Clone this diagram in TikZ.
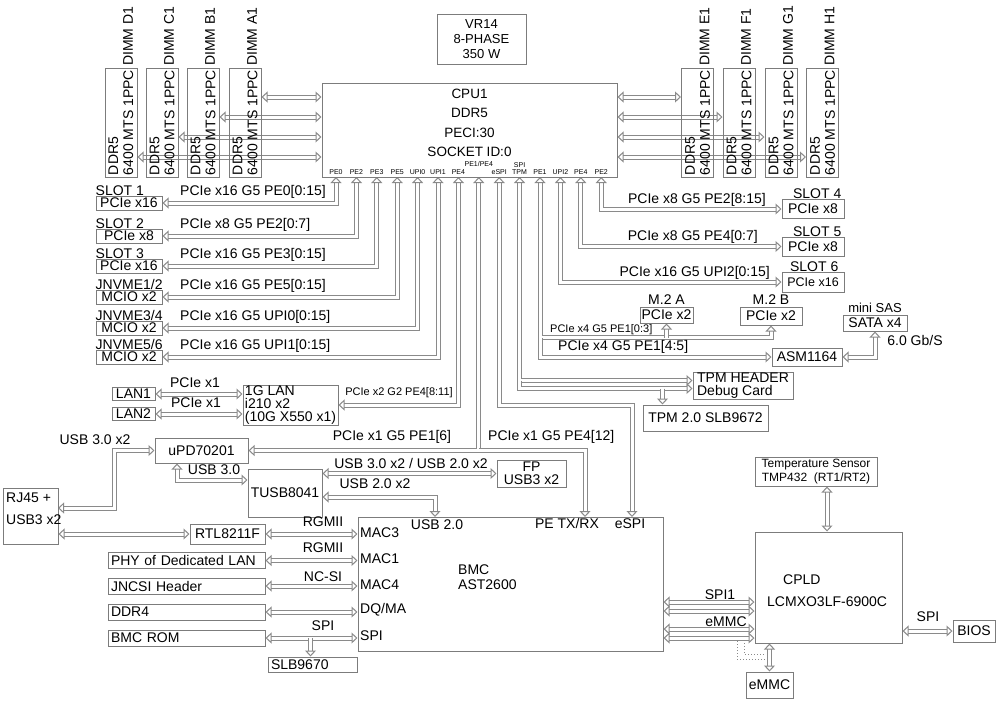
\documentclass[tikz,border=0pt]{standalone}
\usepackage{fontspec}
\setmainfont{Liberation Sans}
\usetikzlibrary{arrows.meta,positioning,backgrounds}
\definecolor{boxgray}{HTML}{7c7c7c}
\definecolor{busgray}{HTML}{8a8a8a}
\newcommand\pxs[2]{\fontsize{#1}{#2}\selectfont}
\tikzset{
  blk/.style={draw=boxgray, line width=1pt, inner sep=0pt, align=center, font=\pxs{14}{15}},
  blk_left/.style={blk, align=left, text width=#1, inner xsep=3pt},
  dimmbox/.style={blk, rotate=90, align=left, minimum width=109pt, minimum height=32pt, inner xsep=1pt},
  dimmlbl/.style={rotate=90, anchor=west, inner sep=0pt, font=\pxs{14}{15}},
  lbl/.style={inner sep=0pt, font=\pxs{14}{15}},
  lbl_small/.style={inner sep=0pt, font=\pxs{11}{12}},
  portlbl/.style={inner sep=0pt, align=center, font=\pxs{7}{7.5}},
  bus/.style={draw=busgray, line width=1pt, double=white, double distance=3pt},
  busboth/.style={bus, {Triangle[open, width=11pt, length=6pt, line width=1pt]}-{Triangle[open, width=11pt, length=6pt, line width=1pt]}},
  busend/.style={bus, -{Triangle[open, width=11pt, length=6pt, line width=1pt]}},
  dotline/.style={draw=busgray, line width=1pt, dotted},
}

\begin{document}
\begin{tikzpicture}[x=1pt, y=-1pt]
  \useasboundingbox (0,0) rectangle (1000,702);

  % CPU, VR and memory
  \node[blk, minimum width=89pt, minimum height=50pt, font=\pxs{13}{15}] (vr) at (481.5,39) {VR14\\8-PHASE\\350 W};
  \node[blk, minimum width=295pt, minimum height=94pt] (cpu) at (469.5,130) {};
  \node[lbl, align=center, font=\pxs{13.5}{19.5}, below=6pt of cpu.north] (cputxt) {CPU1\\DDR5\\PECI:30\\SOCKET ID:0};
  \foreach \nm/\xx in {D/121, C/162, B/203, A/245, E/697.5, F/739, G/781, H/822.5} {
    \node[dimmbox] (dimm\nm) at (\xx,122.5) {DDR5\\6400 MTS 1PPC};
    \node[dimmlbl] (lbl\nm) at (\xx+7,66) {DIMM \nm1};
  }
  \foreach \nm/\txt/\dy [count=\i from 0] in {pe0/PE0/0, pe2/PE2/0, pe3/PE3/0, pe5/PE5/0, upi0/UPI0/0, upi1/UPI1/0, pe4a/PE4/0, pe14/{PE1/PE4}/8, espi/eSPI/0, spitpm/{SPI\\TPM}/0, pe1/PE1/0, upi2/UPI2/0, pe4b/PE4/0, pe2b/PE2/0} {
    \coordinate (\nm) at (336+20.4*\i,177);
    \node[portlbl, anchor=south] (l\nm) at (336+20.4*\i,175-\dy) {\txt};
  }

  % left slots
  \node[blk, minimum width=66pt, minimum height=14pt] (slot1) at (129,203) {PCIe x16};
  \node[blk, minimum width=66pt, minimum height=14pt] (slot2) at (129,236) {PCIe x8};
  \node[blk, minimum width=66pt, minimum height=14pt] (slot3) at (129,266) {PCIe x16};
  \node[blk, minimum width=66pt, minimum height=14pt] (nvme12) at (129,297) {MCIO x2};
  \node[blk, minimum width=66pt, minimum height=14pt] (nvme34) at (129,328) {MCIO x2};
  \node[blk, minimum width=66pt, minimum height=14pt] (nvme56) at (129,357) {MCIO x2};
  \node[lbl, above=0pt of slot1.north west, anchor=south west] (slot1t) {SLOT 1};
  \node[lbl, above=0pt of slot2.north west, anchor=south west] (slot2t) {SLOT 2};
  \node[lbl, above=0pt of slot3.north west, anchor=south west] (slot3t) {SLOT 3};
  \node[lbl, above=0pt of nvme12.north west, anchor=south west] (nvme12t) {JNVME1/2};
  \node[lbl, above=0pt of nvme34.north west, anchor=south west] (nvme34t) {JNVME3/4};
  \node[lbl, above=0pt of nvme56.north west, anchor=south west] (nvme56t) {JNVME5/6};
  \node[lbl, anchor=south west] (bl1) at (180,199) {PCIe x16 G5 PE0[0:15]};
  \node[lbl, anchor=south west] (bl2) at (180,232) {PCIe x8 G5 PE2[0:7]};
  \node[lbl, anchor=south west] (bl3) at (180,262) {PCIe x16 G5 PE3[0:15]};
  \node[lbl, anchor=south west] (bl4) at (180,293) {PCIe x16 G5 PE5[0:15]};
  \node[lbl, anchor=south west] (bl5) at (180,324) {PCIe x16 G5 UPI0[0:15]};
  \node[lbl, anchor=south west] (bl6) at (180,353) {PCIe x16 G5 UPI1[0:15]};

  % right slots and storage
  \node[blk, minimum width=62pt, minimum height=19pt] (slot4) at (813,209) {PCIe x8};
  \node[blk, minimum width=62pt, minimum height=19pt] (slot5) at (813,246.5) {PCIe x8};
  \node[blk, minimum width=62pt, minimum height=20pt, font=\pxs{12.5}{14}] (slot6) at (813,282) {PCIe x16};
  \node[lbl, above=0pt of slot4.north east, anchor=south east, xshift=-3pt] (slot4t) {SLOT 4};
  \node[lbl, above=0pt of slot5.north east, anchor=south east, xshift=-3pt] (slot5t) {SLOT 5};
  \node[lbl, above=0pt of slot6.north east, anchor=south east, xshift=-6pt] (slot6t) {SLOT 6};
  \node[lbl, anchor=south east] (br1) at (766,206.5) {PCIe x8 G5 PE2[8:15]};
  \node[lbl, anchor=south east] (br2) at (758,244) {PCIe x8 G5 PE4[0:7]};
  \node[lbl, anchor=south east] (br3) at (770,279.5) {PCIe x16 G5 UPI2[0:15]};
  \node[blk, minimum width=53pt, minimum height=16pt] (m2a) at (666.5,315) {PCIe x2};
  \node[blk, minimum width=62pt, minimum height=18pt] (m2b) at (771,316) {PCIe x2};
  \node[lbl, above=2pt of m2a] (m2at) {M.2 A};
  \node[lbl, above=2pt of m2b] (m2bt) {M.2 B};
  \node[lbl_small, anchor=south west] (br4) at (550,334.5) {PCIe x4 G5 PE1[0:3]};
  \node[lbl, anchor=west] (br5) at (558,346.5) {PCIe x4 G5 PE1[4:5]};
  \node[blk, minimum width=70pt, minimum height=18pt] (asm) at (807,357) {ASM1164};
  \node[blk, minimum width=64pt, minimum height=16pt] (sata) at (875,323) {SATA x4};
  \node[lbl, font=\pxs{13}{14}, above=1.5pt of sata] (satat) {mini SAS};
  \node[lbl] (satarate) at (915,340) {6.0 Gb/S};
  \node[blk, align=left, minimum width=100pt, minimum height=27pt, font=\pxs{14}{13}] (tpmh) at (743,385.5) {TPM HEADER\\Debug Card};
  \node[blk, minimum width=125pt, minimum height=26pt] (tpm2) at (705.5,418) {TPM 2.0 SLB9672};

  % LAN
  \node[blk, minimum width=43pt, minimum height=13pt] (lan1) at (133.5,394) {LAN1};
  \node[blk, minimum width=43pt, minimum height=13pt] (lan2) at (133.5,414) {LAN2};
  \node[blk, align=left, minimum width=95pt, minimum height=40pt, font=\pxs{14}{13.3}] (glan) at (290.5,405) {1G LAN\\i210 x2\\(10G X550 x1)};
  \node[lbl] (lanl1) at (195,383) {PCIe x1};
  \node[lbl] (lanl2) at (196,403) {PCIe x1};
  \node[lbl_small] (lanl3) at (399,393) {PCIe x2 G2 PE4[8:11]};

  % USB
  \node[blk, minimum width=93pt, minimum height=25pt] (upd) at (201.5,450.5) {uPD70201};
  \node[blk, minimum width=74pt, minimum height=48pt] (tusb) at (285,493) {TUSB8041};
  \node[blk, minimum width=69pt, minimum height=27pt, font=\pxs{14}{13}] (fp) at (531.5,473.5) {FP\\USB3 x2};
  \node[blk, minimum width=55pt, minimum height=56pt] (rj45) at (30.5,516) {};
  \node[lbl, align=left, anchor=north west, font=\pxs{14}{22}] (rj45t) at (6,493) {RJ45 +\\USB3 x2};
  \node[lbl] (usbl1) at (95,440) {USB 3.0 x2};
  \node[lbl] (usbl2) at (214,470) {USB 3.0};
  \node[lbl] (usbl3) at (411,463) {USB 3.0 x2 / USB 2.0 x2};
  \node[lbl] (usbl4) at (375,484) {USB 2.0 x2};
  \node[lbl] (pcil1) at (392,437) {PCIe x1 G5 PE1[6]};
  \node[lbl, anchor=west] (pcil2) at (488,437) {PCIe x1 G5 PE4[12]};

  % BMC
  \node[blk, minimum width=305pt, minimum height=134pt] (bmc) at (510.5,584) {};
  \node[blk, minimum width=75pt, minimum height=20pt] (rtl) at (227.5,534) {RTL8211F};
  \node[blk_left=151pt, minimum height=16pt] (phy) at (186.5,560.5) {PHY of Dedicated LAN};
  \node[blk_left=151pt, minimum height=16pt] (jncsi) at (186.5,586) {JNCSI Header};
  \node[blk_left=151pt, minimum height=16pt] (ddr4) at (186.5,612) {DDR4};
  \node[blk_left=151pt, minimum height=16pt] (bmcrom) at (186.5,638) {BMC ROM};
  \node[blk_left=83pt, minimum height=15pt] (slb) at (312.5,664.5) {SLB9670};
  \node[lbl, anchor=west] (mac3) at (360,533) {MAC3};
  \node[lbl, anchor=west] (mac1) at (360,559) {MAC1};
  \node[lbl, anchor=west] (mac4) at (360,585) {MAC4};
  \node[lbl, anchor=west] (dqma) at (360,610) {DQ/MA};
  \node[lbl, anchor=west] (bmcspi) at (360,636) {SPI};
  \node[lbl] (bmcusb) at (437,525) {USB 2.0};
  \node[lbl] (bmcpe) at (567,523) {PE TX/RX};
  \node[lbl] (bmcespi) at (630,524) {eSPI};
  \node[lbl, align=left, anchor=north west] (bmcname) at (458,565) {BMC\\AST2600};
  \node[lbl] (rgl1) at (323,522) {RGMII};
  \node[lbl] (rgl2) at (323,548) {RGMII};
  \node[lbl] (ncsil) at (323,577) {NC-SI};
  \node[lbl] (spil) at (323,626) {SPI};

  % CPLD
  \node[blk, minimum width=147pt, minimum height=111pt] (cpld) at (828.5,587.5) {};
  \node[lbl, anchor=west] (cpldt1) at (783,580) {CPLD};
  \node[lbl, anchor=west] (cpldt2) at (767,602) {LCMXO3LF-6900C};
  \node[blk, minimum width=122pt, minimum height=29pt, font=\pxs{12}{14}] (temp) at (816,471.5) {Temperature Sensor\\TMP432~~(RT1/RT2)};
  \node[blk, minimum width=47pt, minimum height=26pt] (emmc) at (769.5,685) {eMMC};
  \node[blk, minimum width=42pt, minimum height=22pt] (bios) at (974,631) {BIOS};
  \node[lbl] (spi1l) at (720,595) {SPI1};
  \node[lbl] (emmcl) at (726,622) {eMMC};
  \node[lbl] (biosl) at (928,617) {SPI};

  \coordinate (m2bus) at ([yshift=-12pt]m2b.south);
  \coordinate (tpmup) at ([yshift=5pt]tpmh.west);
  \coordinate (tpmlo) at ([yshift=-3pt]tpmh.west);
  \coordinate (tpmdn) at ([xshift=20pt]tpm2.north west);
  \coordinate (petx) at (585,517);
  \coordinate (espiin) at (632,517);
  \coordinate (usbin) at (435,517);
  \coordinate (rjusb) at (58,508);
  \coordinate (slbin) at ([xshift=-2pt]slb.north);
  \coordinate (tempout) at ([xshift=11pt]temp.south);
  \coordinate (dotA) at (737,641);
  \coordinate (dotAe) at (766,659);
  \coordinate (dotB) at (744,643);
  \coordinate (dotBe) at (766,654);

  \begin{scope}[on background layer]
    % memory buses
    \foreach \d/\yy in {A/97, B/117, C/137, D/157}
      \draw[busboth] (dimm\d.south |- 0,\yy) -- (cpu.west |- 0,\yy);
    \foreach \d/\yy in {E/97, F/117, G/137, H/157}
      \draw[busboth] (cpu.east |- 0,\yy) -- (dimm\d.north |- 0,\yy);
    % PCIe
    \foreach \p/\s in {pe0/slot1, pe2/slot2, pe3/slot3, pe5/nvme12, upi0/nvme34, upi1/nvme56}
      \draw[busboth] (\p) |- (\s.east);
    \foreach \p/\s in {pe2b/slot4, pe4b/slot5, upi2/slot6}
      \draw[busboth] (\p) |- (\s.west);
    \draw[busboth] (pe1) |- (m2bus) -- (m2b.south);
    \draw[busend] (m2bus -| m2a.south) -- (m2a.south);
    \draw[busend] (pe1 |- m2bus) |- (asm.west);
    \draw[busboth] (asm.east) -| (sata.south);
    \draw[busboth] (spitpm) |- (tpmup);
    \draw[busend] (spitpm |- tpmup) |- (tpmlo);
    \draw[busend] (tpmlo -| tpmdn) -- (tpmdn);
    \draw[busboth] (espi) -- ++(0,228) -| (espiin);
    \draw[busboth] (pe4a) |- (glan.east);
    \draw[busboth] (lan1.east) -- (lan1.east -| glan.west);
    \draw[busboth] (lan2.east) -- (lan2.east -| glan.west);
    \draw[busboth] (pe14) |- (upd.east);
    \draw[busend] (pe14 |- upd.east) -| (petx);
    % USB
    \draw[busboth] (upd.west) -- ++(-40,0) |- (rjusb);
    \draw[busboth] ([xshift=-24.5pt]upd.south) |- ([yshift=13pt]tusb.west);
    \draw[busboth] (tusb.east |- fp.west) -- (fp.west);
    \draw[busboth] ([yshift=-4pt]tusb.east) -| (usbin);
    % BMC side
    \draw[busboth] (rj45.east |- rtl.west) -- (rtl.west);
    \foreach \b in {rtl, phy, jncsi, ddr4, bmcrom}
      \draw[busboth] (\b.east) -- (\b.east -| bmc.west);
    \draw[busend] (slbin |- bmcrom.east) -- (slbin);
    \foreach \yy in {602, 611, 629, 638}
      \draw[busboth] (bmc.east |- 0,\yy) -- (cpld.west |- 0,\yy);
    \draw[busboth] (cpld.south -| emmc.north) -- (emmc.north);
    \draw[busboth] (tempout) -- (tempout |- cpld.north);
    \draw[busboth] (cpld.east |- bios.west) -- (bios.west);
    \draw[dotline] (dotA) |- (dotAe);
    \draw[dotline] (dotB) |- (dotBe);
  \end{scope}
\end{tikzpicture}
\end{document}
